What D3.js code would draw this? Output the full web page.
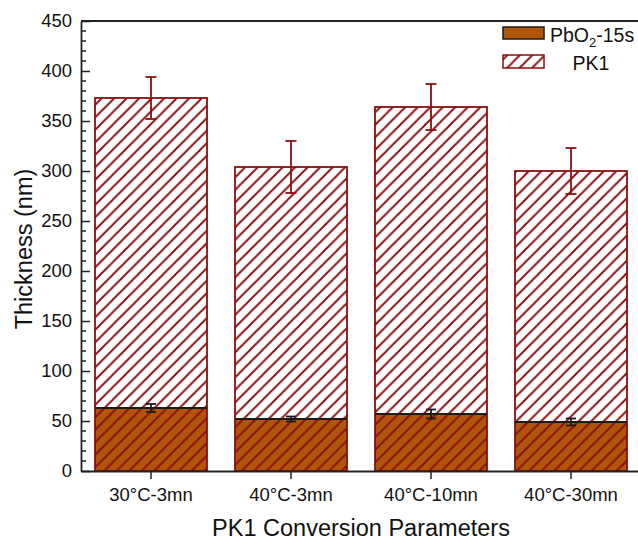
<!DOCTYPE html>
<html>
<head>
<meta charset="utf-8">
<script src="https://cdn.jsdelivr.net/npm/d3@7"></script>
<style>
  html, body { margin: 0; padding: 0; background: #fff; }
  svg { display: block; font-family: Arial, "Liberation Sans", sans-serif; }
</style>
</head>
<body>
<svg id="chart" width="638" height="540"></svg>
<script>
const categories = ["30°C-3mn", "40°C-3mn", "40°C-10mn", "40°C-30mn"];
const pbo2Values = [63, 52, 57, 49];
const pbo2Errors = [4, 2.5, 4.5, 3.5];
const pk1Values = [310, 252, 307, 251];
const totalErrors = [21, 26, 23, 23];
const yTicks = [0, 50, 100, 150, 200, 250, 300, 350, 400, 450];
const seriesNames = ["PbO2-15s", "PK1"];

const W = 638, H = 540;
const margin = { left: 81, top: 21, right: 641, bottom: 471 };
const orange = "#b0560b";
const darkRed = "#8c0e0e";
const axisColor = "#222";

const svg = d3.select("#chart");
const defs = svg.append("defs");
const pat = defs.append("pattern")
  .attr("id", "hatch").attr("patternUnits", "userSpaceOnUse")
  .attr("width", 12.5).attr("height", 12.5);
pat.append("path")
  .attr("d", "M-3.125,3.125 L3.125,-3.125 M0,12.5 L12.5,0 M9.375,15.625 L15.625,9.375")
  .attr("stroke", darkRed).attr("stroke-width", 1.9).attr("fill", "none");

const x = d3.scaleBand().domain(categories)
  .range([margin.left, margin.right]).paddingInner(0.2).paddingOuter(0.1);
const y = d3.scaleLinear().domain([0, 450]).range([margin.bottom, margin.top]);

const data = categories.map((c, i) => ({
  cat: c, pb: pbo2Values[i], pbErr: pbo2Errors[i],
  total: pbo2Values[i] + pk1Values[i], totErr: totalErrors[i]
}));

// bars
const g = svg.append("g");
const bars = g.selectAll("g.bar").data(data).join("g").attr("class", "bar");
bars.append("rect")
  .attr("x", d => x(d.cat)).attr("width", x.bandwidth())
  .attr("y", d => y(d.total)).attr("height", d => y(d.pb) - y(d.total))
  .attr("fill", "#fff");
bars.append("rect")
  .attr("x", d => x(d.cat)).attr("width", x.bandwidth())
  .attr("y", d => y(d.pb)).attr("height", d => y(0) - y(d.pb))
  .attr("fill", orange);
bars.append("rect")
  .attr("x", d => x(d.cat)).attr("width", x.bandwidth())
  .attr("y", d => y(d.total)).attr("height", d => y(0) - y(d.total))
  .attr("fill", "url(#hatch)").attr("stroke", darkRed).attr("stroke-width", 1.8);
bars.append("line")
  .attr("x1", d => x(d.cat)).attr("x2", d => x(d.cat) + x.bandwidth())
  .attr("y1", d => y(d.pb)).attr("y2", d => y(d.pb))
  .attr("stroke", "#1a1a1a").attr("stroke-width", 1.8);

// error bars
function errBar(sel, val, err, color, capW) {
  sel.append("line")
    .attr("x1", d => x(d.cat) + x.bandwidth() / 2).attr("x2", d => x(d.cat) + x.bandwidth() / 2)
    .attr("y1", d => y(val(d) + err(d))).attr("y2", d => y(val(d) - err(d)))
    .attr("stroke", color).attr("stroke-width", 1.8);
  [1, -1].forEach(s => {
    sel.append("line")
      .attr("x1", d => x(d.cat) + x.bandwidth() / 2 - capW / 2)
      .attr("x2", d => x(d.cat) + x.bandwidth() / 2 + capW / 2)
      .attr("y1", d => y(val(d) + s * err(d))).attr("y2", d => y(val(d) + s * err(d)))
      .attr("stroke", color).attr("stroke-width", 1.8);
  });
}
errBar(bars, d => d.total, d => d.totErr, darkRed, 11);
errBar(bars, d => d.pb, d => d.pbErr, "#1a1a1a", 10);

// y axis minor ticks
const minor = d3.range(0, 451, 10).filter(v => v % 50 !== 0);
svg.append("g").selectAll("line").data(minor).join("line")
  .attr("x1", margin.left).attr("x2", margin.left + 5)
  .attr("y1", d => y(d)).attr("y2", d => y(d))
  .attr("stroke", axisColor).attr("stroke-width", 1.5);

const yAxis = svg.append("g").attr("transform", `translate(${margin.left},0)`)
  .call(d3.axisLeft(y).tickValues(yTicks).tickSize(-9).tickSizeOuter(0).tickPadding(9));
yAxis.selectAll("text").attr("font-size", 18.5).attr("fill", "#111")
  .attr("font-family", "Arial, 'Liberation Sans', sans-serif");
yAxis.selectAll("line").attr("stroke", axisColor).attr("stroke-width", 1.5);
yAxis.select(".domain").attr("stroke", axisColor).attr("stroke-width", 1.8);

const xAxis = svg.append("g").attr("transform", `translate(0,${margin.bottom})`)
  .call(d3.axisBottom(x).tickSize(8).tickSizeOuter(0).tickPadding(9));
xAxis.selectAll("text").attr("font-size", 18.5).attr("fill", "#111")
  .attr("font-family", "Arial, 'Liberation Sans', sans-serif");
xAxis.selectAll("line").attr("stroke", axisColor).attr("stroke-width", 1.5);
xAxis.select(".domain").attr("stroke", axisColor).attr("stroke-width", 1.8);

// top & right frame
svg.append("line").attr("x1", margin.left).attr("x2", margin.right)
  .attr("y1", margin.top).attr("y2", margin.top)
  .attr("stroke", axisColor).attr("stroke-width", 1.8);
svg.append("line").attr("x1", margin.right).attr("x2", margin.right)
  .attr("y1", margin.top).attr("y2", margin.bottom)
  .attr("stroke", axisColor).attr("stroke-width", 1.8);

// axis titles
svg.append("text").attr("x", (margin.left + margin.right) / 2).attr("y", 536)
  .attr("text-anchor", "middle").attr("font-size", 23.5).attr("fill", "#111")
  .text("PK1 Conversion Parameters");
svg.append("text").attr("transform", "translate(32,249) rotate(-90)")
  .attr("text-anchor", "middle").attr("font-size", 23.5).attr("fill", "#111")
  .text("Thickness (nm)");

// legend
const leg = svg.append("g");
leg.append("rect").attr("x", 503).attr("y", 27).attr("width", 41).attr("height", 12)
  .attr("fill", orange).attr("stroke", "#1a1a1a").attr("stroke-width", 1.5);
leg.append("rect").attr("x", 503).attr("y", 55).attr("width", 41).attr("height", 13)
  .attr("fill", "url(#hatch)").attr("stroke", darkRed).attr("stroke-width", 1.5);
const t1 = leg.append("text").attr("x", 550).attr("y", 42).attr("font-size", 19.5).attr("fill", "#111");
t1.append("tspan").text(seriesNames[0].slice(0, 3));
t1.append("tspan").attr("dy", 5).attr("font-size", 13).text(seriesNames[0].slice(3, 4));
t1.append("tspan").attr("dy", -5).text(seriesNames[0].slice(4));
leg.append("text").attr("x", 591).attr("y", 70).attr("text-anchor", "middle")
  .attr("font-size", 19.5).attr("fill", "#111").text(seriesNames[1]);
</script>
</body>
</html>
